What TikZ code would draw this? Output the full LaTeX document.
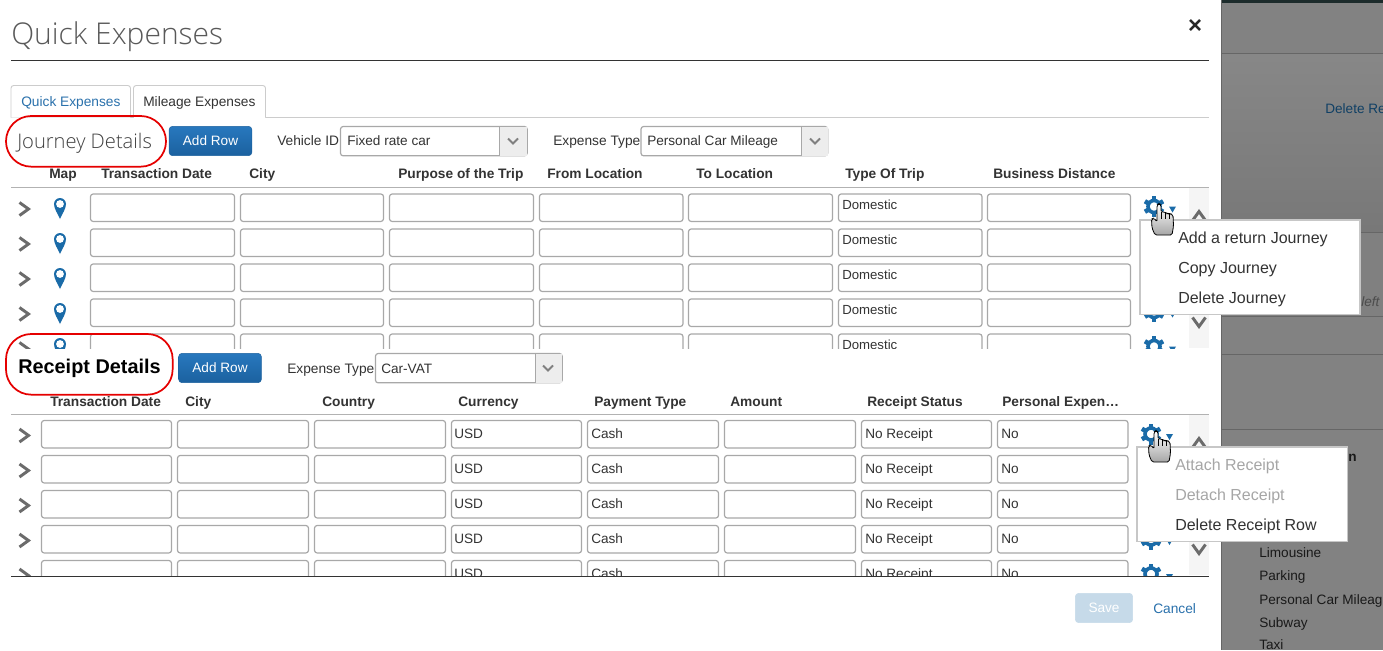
\documentclass[tikz,border=0pt]{standalone}
\usepackage{fontspec}
\setmainfont{Liberation Sans}
\newfontfamily\lightfont{Open Sans Light}
\usetikzlibrary{shapes, arrows.meta, positioning, calc}
\definecolor{iconblue}{HTML}{1A6BA8}
\definecolor{linkblue}{HTML}{2A71AC}
\definecolor{btntop}{HTML}{2878BE}
\definecolor{btnbottom}{HTML}{1B619F}
\definecolor{panelgray}{HTML}{828282}
\definecolor{panelband}{HTML}{1C2B2B}
\definecolor{boxgray}{HTML}{A8A8A8}
\definecolor{inktext}{HTML}{333333}
\definecolor{ruledark}{HTML}{333333}
\newcommand{\pxfont}[1]{\fontsize{#1}{#1}\selectfont}

\begin{document}
\begin{tikzpicture}[
        x=0.75pt, y=-0.75pt,
        field/.style={rectangle, draw=boxgray, line width=0.9pt, fill=white, rounded corners=2pt, anchor=north west, inner sep=0pt, outer sep=0pt, minimum height=20.6pt},
        cellval/.style={anchor=base west, inner sep=0pt, text=inktext, font=\pxfont{10.2}},
        colhead/.style={anchor=base west, inner sep=0pt, text=inktext, font=\pxfont{10.3}\bfseries},
        plainlabel/.style={anchor=base west, inner sep=0pt, text=inktext, font=\pxfont{10.3}},
        menuitem/.style={anchor=base west, inner sep=0pt, text=inktext, font=\pxfont{12}},
        menuoff/.style={menuitem, text=black!35},
        paneltext/.style={anchor=base west, inner sep=0pt, text=black!90, font=\pxfont{10.2}},
        addbtn/.style={rectangle, rounded corners=2.5pt, top color=btntop, bottom color=btnbottom, draw=btnbottom, minimum width=62pt, minimum height=22pt, inner sep=0pt, outer sep=0pt, text=white, font=\pxfont{10.2}},
        combo/.style={rectangle, draw=boxgray, line width=0.9pt, fill=white, rounded corners=2pt, anchor=north west, inner sep=0pt, outer sep=0pt, minimum width=140pt, minimum height=22pt},
        tabbox/.style={draw=black!20, line width=0.7pt, rounded corners=2pt},
        popmenu/.style={rectangle, draw=black!22, line width=1pt, fill=white, anchor=north west, inner sep=0pt, outer sep=0pt},
        callout/.style={rectangle, draw=red!90!black, line width=1.3pt, rounded corners=19pt, anchor=north west, inner sep=0pt, outer sep=0pt},
        chevron/.pic={\draw[black!58, line width=2.2pt] (-4.5,-6.5) -- (4.5,0) -- (-4.5,6.5);},
        minichev/.pic={\draw[black!50, line width=1.5pt] (-2.5,-5) -- (2.5,0) -- (-2.5,5);},
        pinicon/.pic={
            \fill[iconblue] (-6,-1) arc[start angle=180, end angle=360, radius=6] .. controls (6,4) and (2,9) .. (0,14) .. controls (-2,9) and (-6,4) .. (-6,-1) -- cycle;
            \fill[white] (0,-1) circle (3.9);
        },
        gearicon/.pic={
            \draw[iconblue, line width=2.7pt] (0,0) circle (6);
            \foreach \a in {0,60,...,300} {\draw[iconblue, line width=3.4pt] (\a+30:7) -- (\a+30:10.5);}
            \fill[iconblue] (15,0) -- (22,0) -- (18.5,6) -- cycle;
        },
        handcursor/.pic={
            \draw[black, line width=0.6pt, top color=white, bottom color=black!35, rounded corners=1.2pt]
                (0,1) -- (0,18) -- (-3,14) -- (-5.5,15) -- (-5,24) -- (-2,31) -- (15,31) -- (16.5,22) -- (16,11) -- (13,9.5) -- (11,10) -- (8,8) -- (4,8) -- (4,1) -- (2,-0.5) -- cycle;
            \draw[black, line width=0.5pt] (4,8) -- (4,15) (8,8) -- (8,15) (12,10) -- (12,15);
        }
    ]
        \useasboundingbox (0,0) rectangle (1383,650);
        \fill[white] (0,0) rectangle (1383,650);

        \fill[panelgray] (1222,0) rectangle (1383,650);
        \fill[top color=black!47, bottom color=black!53] (1222,54) rectangle (1383,232);
        \fill[black!50] (1222,232) rectangle (1383,316);
        \fill[panelband] (1222,0) rectangle (1383,3);
        \draw[black!60, line width=0.8pt] (1221.5,0) -- (1221.5,650);
        \foreach \ly in {53,232,316,354,429} {\draw[black!60, line width=0.7pt] (1222,\ly) -- (1383,\ly);}
        \begin{scope}
            \clip (1222,0) rectangle (1383,650);
            \node[paneltext, text=iconblue!60!black] (deletere) at (1325,113) {Delete Re};
            \node[paneltext, font=\pxfont{10.2}\itshape, text=black!70] (leftnote) at (1361,306) {left};
            \node[paneltext, font=\pxfont{10.2}\bfseries] (boldn) at (1348,461) {n};
            \node[paneltext] (limousine) at (1259,557) {Limousine};
            \node[paneltext] (parking) at (1259,580) {Parking};
            \node[paneltext] (carmileage) at (1259,604) {Personal Car Mileag};
            \node[paneltext] (subway) at (1259,627) {Subway};
            \node[paneltext] (taxi) at (1259,649) {Taxi};
        \end{scope}

        \node[anchor=base west, inner sep=0pt, text=black!65, font=\pxfont{22.5}\lightfont] (title) at (11,44) {Quick Expenses};
        \node[inner sep=0pt, text=black!85, font=\pxfont{18}\bfseries] (closex) at (1195,27) {×};
        \draw[ruledark, line width=0.9pt] (11,60.5) -- (1209,60.5);

        \draw[black!20, line width=0.8pt] (11,117.5) -- (1209,117.5);
        \draw[tabbox, fill=white] (11,117.5) -- (11,85.5) -- (130.5,85.5) -- (130.5,117.5);
        \draw[tabbox, fill=white] (133.5,117.5) -- (133.5,85.5) -- (265.5,85.5) -- (265.5,117.5);
        \fill[white] (134,117) rectangle (265,118.2);
        \node[plainlabel, text=linkblue] (tabquick) at (21,106) {Quick Expenses};
        \node[plainlabel] (tabmileage) at (143,106) {Mileage Expenses};

        \node[anchor=base west, inner sep=0pt, text=black!75, font=\pxfont{15.1}\lightfont] (journeytitle) at (17,148) {Journey Details};
        \node[addbtn] (addjourney) at (210.5,141) {Add Row};
        \node[plainlabel] (vehiclelabel) at (277,145) {Vehicle ID};
        \node[combo] (vehiclebox) at (340.5,126.5) {};
        \fill[black!7] (499,127) rectangle (526.5,155.5);
        \draw[boxgray, line width=0.7pt] (499,127) -- (499,155.5);
        \pic[rotate=-90] at (513,141) {minichev};
        \node[cellval] (vehicleval) at (347,145) {Fixed rate car};
        \node[plainlabel] (typelabel) at (553,145) {Expense Type};
        \node[combo] (typebox) at (641,126.5) {};
        \fill[black!7] (801,127) rectangle (827.5,155.5);
        \draw[boxgray, line width=0.7pt] (801,127) -- (801,155.5);
        \pic[rotate=-90] at (815,141) {minichev};
        \node[cellval] (typeval) at (647,145) {Personal Car Mileage};

        \foreach \hx/\htxt [count=\i] in {49/Map, 101/Transaction Date, 249/City, 398/Purpose of the Trip, 547/From Location, 696/To Location, 845/Type Of Trip, 993/Business Distance} {
            \node[colhead] (jhead\i) at (\hx,178) {\htxt};
        }
        \draw[black!30, line width=1pt] (11,187.5) -- (1209,187.5);

        \begin{scope}
            \clip (11,188) rectangle (1209,348);
            \fill[black!4] (1189,188) rectangle (1209,348);
            \foreach \r in {0,...,4} {
                \pgfmathsetmacro{\ry}{194+35*\r}
                \pic at (24,\ry+15) {chevron};
                \pic at (60,\ry+11) {pinicon};
                \foreach \cl/\cr [count=\c] in {90.5/234.5, 240.5/383.5, 389.5/533.5, 539.5/683, 688.5/832.5, 838.5/982, 987.5/1130.5} {
                    \node[field, minimum width={(\cr-\cl)*0.75pt}] (jfield\c\r) at (\cl,\ry) {};
                }
                \node[cellval, font=\pxfont{9.9}] (jtrip\r) at (842,\ry+15.5) {Domestic};
                \pic at (1154,\ry+12.5) {gearicon};
            }
            \pic[rotate=90] at (1199,216) {chevron};
            \pic[rotate=-90] at (1199,322) {chevron};
        \end{scope}

        \node[popmenu, minimum width=165pt, minimum height=71pt] (journeymenu) at (1140,220) {};
        \node[menuitem] (addreturn) at (1178,243) {Add a return Journey};
        \node[menuitem] (copyjourney) at (1178,273) {Copy Journey};
        \node[menuitem] (deletejourney) at (1178,303) {Delete Journey};
        \pic at (1157,204) {handcursor};

        \node[anchor=base west, inner sep=0pt, text=black, font=\pxfont{14.9}\bfseries] (receipttitle) at (18,373) {Receipt Details};
        \node[addbtn] (addreceipt) at (220,368) {Add Row};
        \node[plainlabel] (recptlabel) at (287,373) {Expense Type};
        \node[combo] (recptbox) at (375.5,353.5) {};
        \fill[black!7] (535,354) rectangle (561.5,382.5);
        \draw[boxgray, line width=0.7pt] (535,354) -- (535,382.5);
        \pic[rotate=-90] at (548,368) {minichev};
        \node[cellval] (recptval) at (381,373) {Car-VAT};

        \foreach \hx/\htxt [count=\i] in {50/Transaction Date, 185/City, 322/Country, 458/Currency, 594/Payment Type, 730/Amount, 867/Receipt Status, 1002/Personal Expen…} {
            \node[colhead] (rhead\i) at (\hx,406) {\htxt};
        }
        \draw[black!30, line width=1pt] (11,414.5) -- (1209,414.5);

        \begin{scope}
            \clip (11,415) rectangle (1209,575);
            \fill[black!4] (1189,415) rectangle (1209,575);
            \foreach \r in {0,...,4} {
                \pgfmathsetmacro{\ry}{420.5+35*\r}
                \pic at (24,\ry+15) {chevron};
                \foreach \cl/\cr [count=\c] in {41.5/171.5, 177.5/308.5, 314.5/445.5, 451.5/581.5, 587.5/718.5, 724.5/855.5, 861.5/991.5, 997.5/1128} {
                    \node[field, minimum width={(\cr-\cl)*0.75pt}] (rfield\c\r) at (\cl,\ry) {};
                }
                \node[cellval] (rcur\r) at (454,\ry+17.5) {USD};
                \node[cellval] (rpay\r) at (591,\ry+17.5) {Cash};
                \node[cellval] (rstat\r) at (865,\ry+17.5) {No Receipt};
                \node[cellval] (rpers\r) at (1001,\ry+17.5) {No};
                \pic at (1151,\ry+13.5) {gearicon};
            }
            \pic[rotate=90] at (1199,443) {chevron};
            \pic[rotate=-90] at (1199,549) {chevron};
        \end{scope}
        \draw[ruledark, line width=0.9pt] (11,576.5) -- (1209,576.5);

        \node[popmenu, minimum width=158pt, minimum height=71pt] (receiptmenu) at (1137,447) {};
        \node[menuoff] (attachreceipt) at (1175,470) {Attach Receipt};
        \node[menuoff] (detachreceipt) at (1175,500) {Detach Receipt};
        \node[menuitem] (deletereceipt) at (1175,530) {Delete Receipt Row};
        \pic at (1154,431) {handcursor};

        \node[rectangle, rounded corners=2.5pt, draw=iconblue!25, fill=iconblue!25, minimum width=43pt, minimum height=22pt, inner sep=0pt, text=white, font=\pxfont{10.2}] (savebtn) at (1104,608) {Save};
        \node[plainlabel, text=linkblue] (cancellink) at (1153,613) {Cancel};

        \node[callout, minimum width=120pt, minimum height=38pt] (journeymark) at (6,116) {};
        \node[callout, minimum width=125pt, minimum height=45.5pt] (receiptmark) at (6,334) {};
    \end{tikzpicture}
\end{document}
